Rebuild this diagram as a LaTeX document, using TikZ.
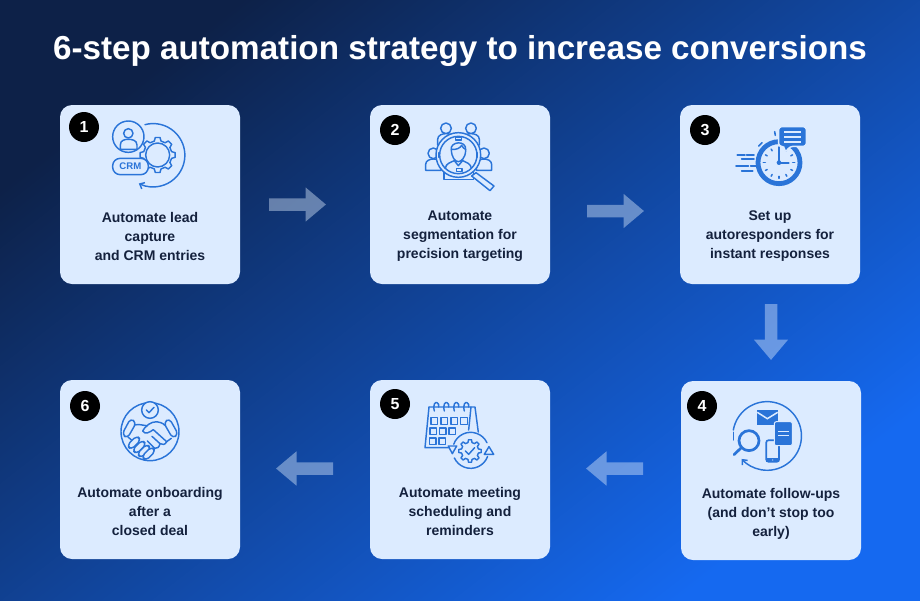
\documentclass[tikz,border=0pt]{standalone}
\usepackage{fontspec}
\setmainfont{Liberation Sans}
\usetikzlibrary{arrows.meta,calc}
\definecolor{bgA}{HTML}{0D2148}
\definecolor{bgB}{HTML}{11408E}
\definecolor{bgC}{HTML}{1569F0}
\definecolor{cardc}{HTML}{DCEBFF}
\definecolor{inkc}{HTML}{14213D}
\definecolor{iconc}{HTML}{2A74D8}
\definecolor{arrowc}{HTML}{E0EEFF}
\tikzset{
  card/.style={fill=cardc,rounded corners=12pt},
  cardtext/.style={text=inkc,font=\fontsize{14}{19}\selectfont\bfseries,align=center,anchor=center,inner sep=0pt},
  badge/.style={circle,fill=black,text=white,minimum size=30pt,inner sep=0pt,font=\fontsize{16}{16}\selectfont\bfseries},
  flow/.style={draw=arrowc,line width=12.5pt,-{Triangle[length=20.5pt,width=33pt]}},
  ic/.style={draw=iconc,line width=1.45pt,line cap=round,line join=round},
  icb/.style={ic,fill=cardc},
  icf/.style={fill=iconc,draw=none},
  zoomed/.style={x=0.3333pt,y=-0.3333pt}
}
\newcommand{\gearshape}[5]{% cx cy rout rin n
  \begin{scope}[shift={(#1,#2)}]
  \draw[icb] ({-0.30*360/#5}:#4) \foreach \k in {1,...,#5}{
     -- ({(\k-1-.17)*360/#5}:#3) -- ({(\k-1+.17)*360/#5}:#3) -- ({(\k-1+.30)*360/#5}:#4) -- ({(\k-.30)*360/#5}:#4)
  } -- cycle;
  \end{scope}}
\begin{document}
\begin{tikzpicture}[x=1pt,y=-1pt]
\useasboundingbox (0,0) rectangle (920,600);
\shade[top color=bgA,middle color=bgB,bottom color=bgC,shading angle=38] (0,0) rectangle (920,600);
\node[text=white,font=\fontsize{33.2}{33}\selectfont\bfseries,inner sep=0pt] (title) at (460,50.5) {6-step automation strategy to increase conversions};

% cards
\fill[card] (60,105) rectangle (240,284);
\fill[card] (370,105) rectangle (550,284);
\fill[card] (680,105) rectangle (860,284);
\fill[card] (681,381) rectangle (861,560);
\fill[card] (370,380) rectangle (550,559);
\fill[card] (60,380) rectangle (240,559);

% card texts
\node[cardtext] (t1) at (150,236.5) {Automate lead\\capture\\and CRM entries};
\node[cardtext] (t2) at (460,236.5) {Automate\\segmentation for\\precision targeting};
\node[cardtext] (t3) at (770,236.5) {Set up\\autoresponders for\\instant responses};
\node[cardtext] (t4) at (771,513.5) {Automate follow-ups\\(and don’t stop too\\early)};
\node[cardtext] (t5) at (460,511.5) {Automate meeting\\scheduling and\\reminders};
\node[cardtext] (t6) at (150,511.5) {Automate onboarding\\after a\\closed deal};

% badges
\node[badge] (b1) at (84,127) {1};
\node[badge] (b2) at (395,130) {2};
\node[badge] (b3) at (705,130) {3};
\node[badge] (b4) at (702,406) {4};
\node[badge] (b5) at (395,404) {5};
\node[badge] (b6) at (85,406) {6};

% arrows
\coordinate (a1s) at (269,204.5); \coordinate (a1e) at (326,204.5);
\coordinate (a2s) at (587,211);   \coordinate (a2e) at (644,211);
\coordinate (a3s) at (771,304);   \coordinate (a3e) at (771,360);
\coordinate (a4s) at (643,468.5); \coordinate (a4e) at (586,468.5);
\coordinate (a5s) at (333,468.5); \coordinate (a5e) at (276,468.5);
\begin{scope}[transparency group,opacity=.42]
\draw[flow] (a1s) -- (a1e);
\draw[flow] (a2s) -- (a2e);
\draw[flow] (a3s) -- (a3e);
\draw[flow] (a4s) -- (a4e);
\draw[flow] (a5s) -- (a5e);
\end{scope}

% icon 1: CRM
\begin{scope}[shift={(60,100)},zoomed]
\draw[ic,-{Straight Barb[length=4pt,width=7pt]}] (255,74) arc[start angle=-105,end angle=117,radius=95];
\gearshape{293}{165}{53}{43}{8}
\draw[ic] (293,165) circle[radius=36];
\draw[icb] (205,110) circle[radius=47];
\draw[ic] (205,100) circle[radius=14];
\draw[ic] (181,148) -- (181,135) .. controls (181,120) and (195,118) .. (205,118) .. controls (215,118) and (231,120) .. (231,135) -- (231,148) -- cycle;
\draw[icb,rounded corners=7.5pt] (158,175) rectangle (265,224);
\node[text=iconc,font=\fontsize{9.6}{9}\selectfont\bfseries,inner sep=0pt] (crm) at (211,199) {CRM};
\end{scope}

% icon 2: segmentation
\begin{scope}[shift={(370,100)},zoomed]
\foreach \hx in {228,303}{
  \draw[ic] (\hx,85) circle[radius=16];
  \draw[icb] (\hx-25,135) -- (\hx-25,118) .. controls (\hx-25,105) and (\hx-10,101) .. (\hx,101) .. controls (\hx+10,101) and (\hx+25,105) .. (\hx+25,118) -- (\hx+25,135);
}
\foreach \hx in {190,342}{
  \draw[ic] (\hx,160) circle[radius=16];
  \draw[icb] (\hx-23,211) -- (\hx-23,193) .. controls (\hx-23,182) and (\hx-10,177) .. (\hx,177) .. controls (\hx+10,177) and (\hx+23,182) .. (\hx+23,193) -- (\hx+23,211) -- cycle;
}
\draw[ic] (222,205) -- (222,238) -- (310,238) -- (310,205);
\draw[icb] (318,218) -- (372,258) -- (360,272) -- (305,228) -- cycle;
\draw[icb] (265,165) circle[radius=67];
\draw[ic] (265,165) circle[radius=56];
\draw[ic] (244,150) .. controls (238,125) and (290,118) .. (287,150) .. controls (287,175) and (272,185) .. (265,185) .. controls (255,185) and (245,172) .. (244,150);
\draw[ic] (244,148) .. controls (258,150) and (270,145) .. (275,136) .. controls (278,142) and (282,146) .. (287,148);
\draw[ic] (226,205) .. controls (228,190) and (240,188) .. (253,182) -- (265,197) -- (278,182) .. controls (290,188) and (302,190) .. (304,205);
\draw[icb] (256,112) rectangle (274,120);
\draw[icb] (260,205) rectangle (276,214);
\draw[ic] (207,158) -- (207,172) (323,158) -- (323,172);
\end{scope}

% icon 3: clock
\begin{scope}[shift={(680,100)},zoomed]
\draw[draw=iconc,line width=4.8pt] (297,188) circle[radius=63];
\foreach \q in {0,30,...,330}{
  \draw[ic,line width=1.5pt] ({297+41*cos(\q)},{188+41*sin(\q)}) -- ({297+47*cos(\q)},{188+47*sin(\q)});
}
\draw[ic,line width=2.2pt] (297,146) -- (297,188) -- (326,188);
\fill[iconc] (297,188) circle[radius=7];
\draw[ic,line width=1.7pt] (172,165) -- (195,165) (185,178) -- (222,178) (168,197) -- (205,197) (185,212) -- (218,212) (200,165) -- (222,165) (212,197) -- (228,197);
\draw[ic,line width=1.6pt] (284,95) -- (286,106) (236,138) -- (246,128);
\draw[draw=cardc,line width=1.4pt,fill=iconc,rounded corners=3pt] (296,80) -- (379,80) -- (379,139) -- (330,139) -- (315,158) -- (313,139) -- (296,139) -- cycle;
\draw[draw=cardc,line width=1.8pt] (313,95) -- (362,95) (313,110) -- (362,110) (313,125) -- (362,125);
\end{scope}

% icon 4: follow-ups
\begin{scope}[shift={(680,375)},zoomed]
\draw[ic,-{Straight Barb[length=4pt,width=7pt]}] (160,165) arc[start angle=-170,end angle=138,radius=103];
\draw[ic] (160,172) -- (160,195);
\fill[iconc] (232,105) -- (293,105) -- (293,150) -- (232,150) -- cycle;
\draw[draw=cardc,line width=1.5pt,line join=miter] (232,112) -- (262,131) -- (293,112);
\draw[draw=iconc,line width=2.7pt] (207,197) circle[radius=30];
\draw[draw=iconc,line width=2.7pt,line cap=round] (184,218) -- (162,239);
\draw[draw=iconc,line width=1.7pt,rounded corners=2pt] (259,196) rectangle (297,260);
\fill[iconc] (259,250) rectangle (297,260);
\fill[cardc] (278,255) circle[radius=1.8];
\draw[draw=cardc,line width=1pt,fill=iconc,rounded corners=2pt] (283,140) rectangle (337,212);
\draw[draw=cardc,line width=1.3pt] (295,170) -- (326,170) (295,181) -- (326,181);
\end{scope}

% icon 5: calendar
\begin{scope}[shift={(370,375)},zoomed]
\draw[ic] (177,96) -- (315,96) -- (325,172);
\draw[ic] (177,96) -- (165,218) -- (245,218);
\draw[ic] (303,96) -- (296,165);
\foreach \rx in {198,228,258,288}{
  \draw[ic] (\rx-5,108) .. controls (\rx-10,88) and (\rx-2,80) .. (\rx+3,83) .. controls (\rx+8,85) and (\rx+9,90) .. (\rx+8,96);
}
\foreach \sx in {183,213,243,272}{\draw[ic] (\sx,128) rectangle +(20,20);}
\foreach \sx in {180,208,237}{\draw[ic] (\sx,159) rectangle +(20,20);}
\foreach \sx in {178,207}{\draw[ic] (\sx,189) rectangle +(20,20);}
\fill[cardc] (302,226) circle[radius=58];
\draw[ic] ({302+54*cos(200)},{226+54*sin(200)}) arc[start angle=200,end angle=335,radius=54];
\draw[ic] ({302+54*cos(20)},{226+54*sin(20)}) arc[start angle=20,end angle=155,radius=54];
\draw[icb] (235,213) -- (260,213) -- (247,236) -- cycle;
\draw[icb] (343,238) -- (371,238) -- (357,215) -- cycle;
\gearshape{300}{228}{34}{26}{8}
\draw[ic] (286,228) -- (296,238) -- (314,218);
\end{scope}

% icon 6: handshake
\begin{scope}[shift={(60,375)},zoomed]
\draw[ic] (270,170) circle[radius=87];
\draw[icb] (270,105) circle[radius=25];
\draw[ic] (259,105) -- (267,113) -- (282,97);
\draw[ic] (224,150) .. controls (238,146) and (250,152) .. (262,152);
\draw[ic] (204,186) -- (218,198);
\draw[ic] (316,152) .. controls (300,136) and (280,138) .. (266,148) .. controls (258,156) and (250,160) .. (248,168) .. controls (256,180) and (268,172) .. (280,164) -- (320,200);
\draw[ic] (334,190) -- (320,200);
\draw[ic] (320,200) .. controls (316,210) and (306,210) .. (300,206) .. controls (298,216) and (292,222) .. (284,220) .. controls (282,230) and (276,238) .. (264,240);
\draw[ic] (300,206) -- (276,184) (284,220) -- (262,198);
\foreach \fx/\fy in {222/203,238/216,252/228,266/236}{
  \begin{scope}[shift={(\fx,\fy)},rotate=45]
  \draw[icb,rounded corners=4pt] (-21,-9) rectangle (21,9);
  \end{scope}
}
\draw[icb,rounded corners=4pt] (212,130) -- (229,143) -- (202,190) -- (186,178) -- cycle;
\draw[icb,rounded corners=4pt] (328,130) -- (311,143) -- (338,190) -- (355,178) -- cycle;
\end{scope}
\end{tikzpicture}
\end{document}
